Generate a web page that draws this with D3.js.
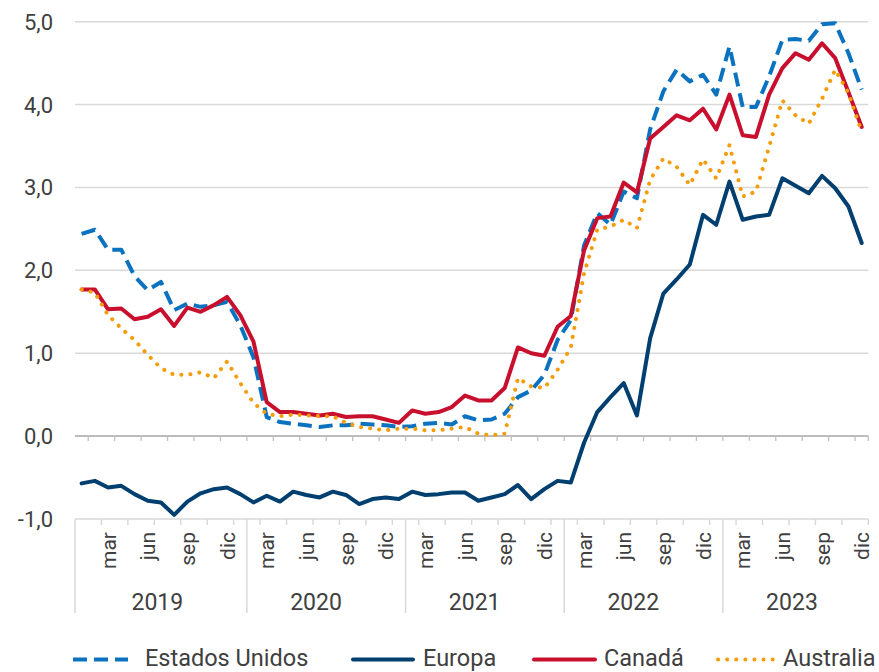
<!DOCTYPE html>
<html lang="es">
<head>
<meta charset="UTF-8">
<title>Tipos de interés</title>
<style>
  body { margin: 0; background: #fff; }
  svg { display: block; font-family: Roboto, "Noto Sans", sans-serif; }
</style>
</head>
<body>
<script src="https://cdn.jsdelivr.net/npm/d3@7"></script>
<script>
  // datos mensuales, ene 2019 - dic 2023
  const years = [2019, 2020, 2021, 2022, 2023]
  const monthNames = ['ene', 'feb', 'mar', 'abr', 'may', 'jun', 'jul', 'ago', 'sep', 'oct', 'nov', 'dic']
  const yTicks = [-1, 0, 1, 2, 3, 4, 5]

  const estadosUnidos = [
    2.44, 2.49, 2.25, 2.25, 1.93, 1.76, 1.86, 1.52, 1.60, 1.56, 1.58, 1.62,
    1.34, 0.95, 0.23, 0.17, 0.15, 0.13, 0.11, 0.13, 0.13, 0.15, 0.14, 0.13,
    0.11, 0.12, 0.15, 0.16, 0.14, 0.24, 0.19, 0.20, 0.27, 0.47, 0.55, 0.74,
    1.16, 1.40, 2.30, 2.69, 2.55, 2.95, 2.87, 3.70, 4.16, 4.42, 4.28, 4.36,
    4.12, 4.70, 3.97, 3.97, 4.34, 4.78, 4.79, 4.77, 4.97, 4.98, 4.62, 4.18
  ]
  const europa = [
    -0.57, -0.54, -0.62, -0.60, -0.70, -0.78, -0.80, -0.95, -0.79, -0.69, -0.64, -0.62,
    -0.70, -0.80, -0.72, -0.79, -0.67, -0.71, -0.74, -0.67, -0.71, -0.82, -0.76, -0.74,
    -0.76, -0.67, -0.71, -0.70, -0.68, -0.68, -0.78, -0.74, -0.70, -0.59, -0.76, -0.64,
    -0.54, -0.56, -0.08, 0.29, 0.47, 0.64, 0.25, 1.18, 1.72, 1.89, 2.07, 2.67,
    2.55, 3.07, 2.61, 2.65, 2.67, 3.11, 3.02, 2.93, 3.14, 2.99, 2.77, 2.33
  ]
  const canada = [
    1.77, 1.77, 1.53, 1.54, 1.41, 1.44, 1.53, 1.33, 1.55, 1.50, 1.58, 1.68,
    1.46, 1.14, 0.41, 0.29, 0.29, 0.27, 0.25, 0.27, 0.23, 0.24, 0.24, 0.20,
    0.16, 0.31, 0.27, 0.29, 0.35, 0.49, 0.43, 0.43, 0.58, 1.07, 1.00, 0.97,
    1.32, 1.45, 2.24, 2.63, 2.65, 3.06, 2.94, 3.59, 3.73, 3.87, 3.81, 3.95,
    3.70, 4.12, 3.63, 3.61, 4.12, 4.44, 4.62, 4.54, 4.74, 4.56, 4.15, 3.73
  ]
  const australia = [
    1.77, 1.73, 1.46, 1.30, 1.16, 0.98, 0.82, 0.74, 0.74, 0.77, 0.70, 0.90,
    0.64, 0.40, 0.27, 0.24, 0.26, 0.25, 0.24, 0.24, 0.16, 0.11, 0.09, 0.07,
    0.09, 0.09, 0.07, 0.07, 0.09, 0.11, 0.03, 0.01, 0.03, 0.70, 0.60, 0.58,
    0.80, 1.07, 1.96, 2.49, 2.53, 2.61, 2.51, 3.09, 3.35, 3.25, 3.03, 3.34,
    3.11, 3.51, 2.89, 2.95, 3.49, 4.05, 3.87, 3.77, 4.07, 4.42, 4.14, 3.67
  ]

  const series = [
    { name: 'Estados Unidos', values: estadosUnidos, color: '#0b72c0', dash: '14,7', cap: 'butt' },
    { name: 'Europa', values: europa, color: '#003f6f', dash: null, cap: 'round' },
    { name: 'Canadá', values: canada, color: '#c8102e', dash: null, cap: 'round' },
    { name: 'Australia', values: australia, color: '#f59c0a', dash: '0.1,9', cap: 'round' }
  ]

  const width = 879
  const height = 672
  const left = 75
  const right = 868.3
  const textColor = '#404040'
  const gridColor = '#d9d9d9'

  const months = d3.range(years.length * 12)

  const x = d3.scaleBand()
    .domain(months)
    .range([left, right])
  const bw = x.bandwidth()
  const xEdge = i => left + i * bw
  const xMid = i => x(i) + bw / 2

  const y = d3.scaleLinear()
    .domain([-1, 5])
    .range([519, 21.7])

  const svg = d3.select('body').append('svg')
    .attr('width', width)
    .attr('height', height)

  drawGrid()
  drawXAxis()
  drawLines()
  drawLegend()

  function drawGrid() {
    const g = svg.append('g')
    g.selectAll('line')
      .data(yTicks.filter(d => d !== 0))
      .join('line')
      .attr('x1', left).attr('x2', right)
      .attr('y1', d => y(d)).attr('y2', d => y(d))
      .attr('stroke', gridColor)
      .attr('stroke-width', 1.5)

    g.selectAll('text')
      .data(yTicks)
      .join('text')
      .attr('x', 53)
      .attr('y', d => y(d))
      .attr('dy', '0.36em')
      .attr('text-anchor', 'end')
      .attr('font-size', 22)
      .attr('fill', textColor)
      .text(d => d.toFixed(1).replace('.', ','))

    // línea del cero con marcas cada dos meses
    g.append('line')
      .attr('x1', left).attr('x2', right)
      .attr('y1', y(0)).attr('y2', y(0))
      .attr('stroke', '#a6a6a6')
      .attr('stroke-width', 1.5)
    g.selectAll('.zt')
      .data(d3.range(1, 60, 2).concat([60]))
      .join('line')
      .attr('class', 'zt')
      .attr('x1', xEdge).attr('x2', xEdge)
      .attr('y1', y(0)).attr('y2', y(0) + 5)
      .attr('stroke', '#c0c0c0')
      .attr('stroke-width', 1.3)
  }

  function drawXAxis() {
    const g = svg.append('g')
    const base = y(-1)

    g.selectAll('.mt')
      .data(d3.range(2, 61, 2))
      .join('line')
      .attr('class', 'mt')
      .attr('x1', xEdge).attr('x2', xEdge)
      .attr('y1', base).attr('y2', base + 6)
      .attr('stroke', gridColor)
      .attr('stroke-width', 1.5)

    // separadores de año
    g.selectAll('.ys')
      .data([0, 13, 25, 37, 49])
      .join('line')
      .attr('class', 'ys')
      .attr('x1', xEdge).attr('x2', xEdge)
      .attr('y1', base).attr('y2', base + 94)
      .attr('stroke', gridColor)
      .attr('stroke-width', 1.5)

    g.selectAll('.ml')
      .data(months.filter(i => i % 3 === 2))
      .join('text')
      .attr('class', 'ml')
      .attr('transform', i => `translate(${ xMid(i) }, 532) rotate(-90)`)
      .attr('dy', '0.36em')
      .attr('text-anchor', 'end')
      .attr('font-size', 21)
      .attr('fill', textColor)
      .text(i => monthNames[i % 12])

    g.selectAll('.yl')
      .data(years)
      .join('text')
      .attr('class', 'yl')
      .attr('x', (d, k) => (xEdge(k * 12) + xEdge(k * 12 + 12)) / 2 + 3)
      .attr('y', 610)
      .attr('text-anchor', 'middle')
      .attr('font-size', 23)
      .attr('fill', textColor)
      .text(d => d)
  }

  function drawLines() {
    const line = d3.line()
      .x((d, i) => xMid(i))
      .y(d => y(d))

    svg.append('g')
      .selectAll('path')
      .data(series)
      .join('path')
      .attr('d', d => line(d.values))
      .attr('fill', 'none')
      .attr('stroke', d => d.color)
      .attr('stroke-width', 4)
      .attr('stroke-linejoin', 'round')
      .attr('stroke-linecap', d => d.cap)
      .attr('stroke-dasharray', d => d.dash)
  }

  function drawLegend() {
    const pos = [[73, 128, 145], [353, 413, 423], [534, 595, 604], [718, 773, 783]]
    const g = svg.append('g')
      .selectAll('g')
      .data(series)
      .join('g')

    g.append('line')
      .attr('x1', (d, i) => pos[i][0])
      .attr('x2', (d, i) => pos[i][1])
      .attr('y1', 659.5).attr('y2', 659.5)
      .attr('stroke', d => d.color)
      .attr('stroke-width', 4)
      .attr('stroke-linecap', d => d.cap)
      .attr('stroke-dasharray', d => d.dash)

    g.append('text')
      .attr('x', (d, i) => pos[i][2])
      .attr('y', 666)
      .attr('font-size', 23.5)
      .attr('fill', textColor)
      .text(d => d.name)
  }
</script>
</body>
</html>
